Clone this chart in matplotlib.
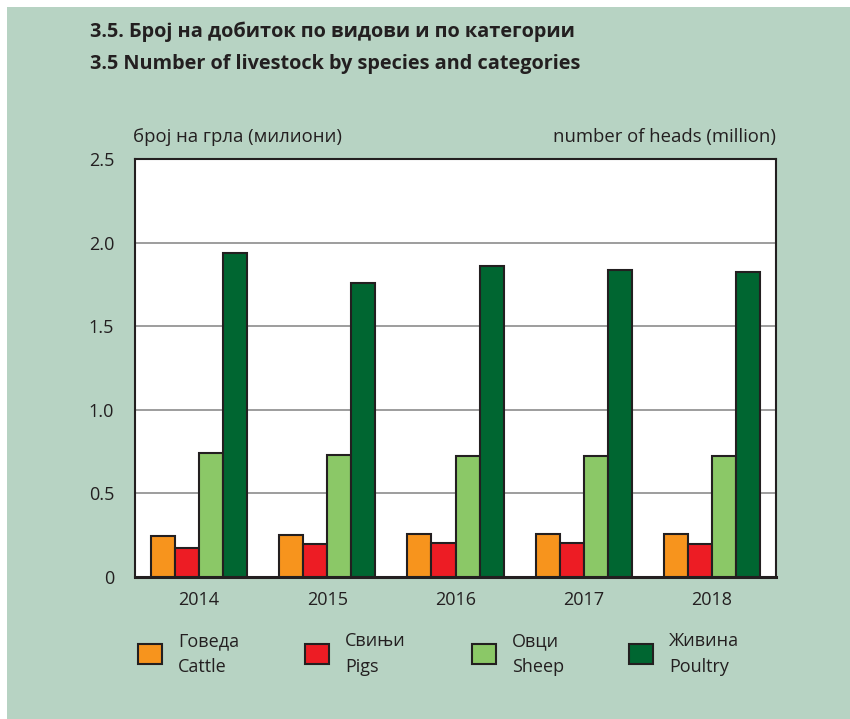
import matplotlib.pyplot as plt
import matplotlib.patches as mpatches
import numpy as np

# data (million heads)
years = ['2014', '2015', '2016', '2017', '2018']
cattle = [0.242, 0.252, 0.254, 0.254, 0.256]
pigs = [0.169, 0.196, 0.204, 0.203, 0.196]
sheep = [0.738, 0.730, 0.722, 0.722, 0.724]
poultry = [1.935, 1.756, 1.861, 1.833, 1.821]
series_labels = ['Говеда\nCattle', 'Свињи\nPigs', 'Овци\nSheep', 'Живина\nPoultry']
yticks = [0, 0.5, 1.0, 1.5, 2.0, 2.5]
ytick_labels = ['0', '0.5', '1.0', '1.5', '2.0', '2.5']

colors = ['#F7941D', '#ED1C24', '#8BC867', '#006631']
bg = '#B7D3C3'
edge = '#231F20'

plt.rcParams['font.family'] = ['Open Sans', 'DejaVu Sans']

fig = plt.figure(figsize=(8.5, 7.19), dpi=100)
fig.patch.set_facecolor('white')
fig.patches.append(mpatches.Rectangle((7 / 850, 0), 1, 712 / 719, transform=fig.transFigure,
                                      facecolor=bg, edgecolor='none', zorder=-10))

# title
fig.text(90 / 850, 1 - 32 / 719, '3.5. Број на добиток по видови и по категории',
         fontsize=14.3, fontweight='bold', color='#231F20', va='center')
fig.text(90 / 850, 1 - 64 / 719, '3.5 Number of livestock by species and categories',
         fontsize=14.3, fontweight='bold', color='#231F20', va='center')

ax = fig.add_axes([135 / 850, 1 - 576.7 / 719, 641 / 850, (576.7 - 159) / 719])
ax.set_facecolor('white')

x = np.arange(len(years))
w = 0.1875
all_series = [cattle, pigs, sheep, poultry]
for i, vals in enumerate(all_series):
    ax.bar(x + (i - 1.5) * w, vals, width=w, color=colors[i], edgecolor=edge,
           linewidth=1.5, zorder=3, label=series_labels[i])

ax.set_xlim(-0.5, len(years) - 0.5)
ax.set_ylim(0, 2.5)
ax.set_yticks(yticks)
ax.set_yticklabels(ytick_labels)
ax.set_xticks(x)
ax.set_xticklabels(years)
ax.tick_params(axis='both', length=0, labelsize=13, colors='#231F20')
ax.tick_params(axis='y', pad=15)
ax.tick_params(axis='x', pad=10)
ax.yaxis.grid(True, color='#8C8C8C', linewidth=1.2, zorder=0)
ax.set_axisbelow(True)
for s in ax.spines.values():
    s.set_color(edge)
    s.set_linewidth(1.5)
ax.spines['bottom'].set_linewidth(2.2)

fig.text(133 / 850, 1 - 137 / 719, 'број на грла (милиони)', fontsize=13.3, color='#231F20', va='center')
fig.text(776 / 850, 1 - 137 / 719, 'number of heads (million)', fontsize=13.3, color='#231F20',
         va='center', ha='right')

# legend
leg_x = [138, 305, 472, 629]
for i in range(4):
    fig.patches.append(mpatches.Rectangle((leg_x[i] / 850, 1 - 664 / 719), 24 / 850, 20 / 719,
                                          transform=fig.transFigure, facecolor=colors[i],
                                          edgecolor=edge, linewidth=1.5))
    fig.text((leg_x[i] + 40) / 850, 1 - 654 / 719, series_labels[i], fontsize=13,
             color='#231F20', va='center', linespacing=1.5)

plt.savefig('out.png', dpi=100, facecolor=fig.get_facecolor())
